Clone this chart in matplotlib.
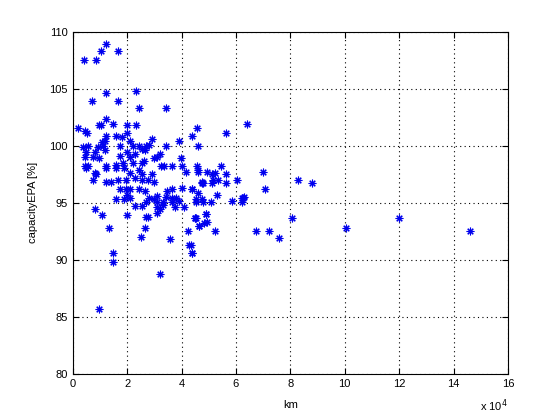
"""Scatter of capacityEPA [%] against km, MATLAB-style."""

import matplotlib
matplotlib.use("Agg")
import matplotlib.pyplot as plt

# km in units of 1e4 (axis shows "x 10^4")
km = [
    1.21, 1.03, 1.65, 0.40, 0.84, 2.31, 1.21, 0.70, 1.65, 2.45, 3.44,
    6.41, 4.58, 4.40, 5.64, 4.62, 4.58, 4.62, 4.95, 5.13, 5.24, 5.46,
    5.64, 7.00, 6.04, 5.35, 5.16, 4.80, 4.76, 5.13, 5.64, 4.40, 7.07,
    8.28, 8.79, 5.31, 6.30, 4.62, 5.86, 6.23, 4.54, 4.80, 5.09, 4.51,
    4.91, 4.95, 4.84, 4.65, 5.24, 6.74, 7.22, 7.58, 8.06, 4.36, 4.40,
    12.01, 10.04, 14.62,
    1.21, 1.03, 0.95, 1.47, 2.01, 2.34, 0.18, 0.44, 0.51, 1.21, 1.58,
    1.98, 1.17, 1.06, 0.37, 0.55, 0.92, 1.10, 1.72, 2.09, 2.20, 2.45,
    0.48, 0.81, 1.17, 1.98, 0.44, 0.73, 0.95, 1.72, 2.09, 0.44, 0.55,
    1.21, 1.58, 1.83, 2.20, 2.56,
    0.48, 0.81, 0.84, 0.73, 1.21, 1.58, 1.90, 2.12, 2.27, 1.21, 1.39,
    1.65, 1.94, 1.72, 1.94, 2.12, 2.45, 2.01, 2.09, 1.58, 1.90, 2.27,
    2.56, 0.81, 1.06, 1.98,
    1.32, 2.67, 2.49, 2.75, 1.47, 1.47, 3.19, 0.95, 3.59, 4.25, 4.29,
    4.40, 4.51, 4.65,
    3.92, 2.82, 2.71, 2.56, 2.64, 3.44, 3.19, 3.08, 3.00, 3.99, 3.26,
    3.37, 3.63, 4.03,
    4.18, 4.62, 2.45, 2.56, 2.93, 2.53, 2.75, 3.00, 3.66, 4.03, 4.40,
    4.76, 3.48, 2.64, 3.11, 2.82, 3.00, 3.41, 3.63, 3.81, 3.92, 2.71,
    3.08, 3.30, 3.66, 4.54, 4.76, 3.08, 3.19, 3.74, 4.10, 3.11, 2.71,
    4.54, 4.91, 6.26, 6.23, 3.30, 2.60, 2.30, 2.90, 1.80,
]
capacity = [
    108.9, 108.3, 108.3, 107.5, 107.5, 104.8, 104.6, 103.9, 103.9, 103.3, 103.3,
    101.9, 101.6, 100.9, 101.1, 100.0, 98.2, 97.7, 97.7, 97.5, 97.6, 98.2,
    97.5, 97.7, 97.0, 97.0, 97.0, 96.7, 96.7, 96.7, 96.7, 96.2, 96.2,
    97.0, 96.7, 95.7, 95.5, 95.9, 95.2, 95.4, 95.1, 95.1, 95.1, 93.7,
    94.0, 93.3, 93.2, 93.0, 92.5, 92.5, 92.5, 91.9, 93.7, 91.3, 90.6,
    93.7, 92.8, 92.5,
    102.4, 101.8, 101.8, 101.9, 101.8, 101.8, 101.6, 101.3, 101.1, 100.9, 100.9,
    101.1, 100.4, 100.3, 99.9, 100.0, 99.9, 100.0, 100.0, 100.4, 100.0, 100.0,
    99.5, 99.5, 99.6, 99.5, 99.0, 99.0, 98.9, 99.1, 99.0, 98.2, 98.2,
    98.2, 98.3, 98.5, 98.5, 98.5,
    98.1, 97.6, 97.5, 97.0, 98.1, 98.1, 98.1, 97.6, 97.2, 96.8, 96.8,
    97.0, 97.0, 96.2, 96.2, 96.2, 96.2, 95.7, 95.4, 95.3, 95.3, 94.7,
    94.7, 94.5, 93.9, 93.9,
    92.8, 92.8, 92.0, 93.8, 90.6, 89.8, 88.8, 85.7, 91.8, 92.5, 91.3,
    90.6, 93.7, 93.0,
    100.4, 100.1, 100.0, 99.7, 99.6, 100.0, 99.3, 99.0, 98.9, 98.9, 98.2,
    98.2, 98.2, 98.2,
    97.7, 97.9, 97.9, 97.5, 97.5, 97.0, 97.0, 96.8, 96.2, 96.3, 96.2,
    96.8, 96.0, 96.0, 95.6, 95.4, 95.3, 95.5, 95.4, 95.4, 95.2, 95.1,
    95.1, 95.1, 95.1, 95.3, 95.3, 94.6, 94.5, 94.6, 94.6, 94.1, 93.8,
    93.7, 94.0, 95.4, 95.1, 94.8, 98.7, 99.3, 100.6, 100.8,
]


def main() -> None:
    plt.rcParams["font.family"] = ["Liberation Sans", "DejaVu Sans"]
    fig = plt.figure(figsize=(5.6, 4.2), dpi=100)
    ax = fig.add_axes([0.13, 0.11, 0.777, 0.814])

    ax.plot(km, capacity, linestyle="none", marker=(8, 2, 0), markersize=5.5,
            markeredgewidth=0.8, color="#0000ee")

    ax.set_xlim(0, 16)
    ax.set_ylim(80, 110)
    ax.set_xticks(range(0, 17, 2))
    ax.set_yticks(range(80, 111, 5))
    ax.grid(True, color="black", linestyle=(0, (1, 3)), linewidth=0.8)
    ax.tick_params(direction="in", top=True, right=True, labelsize=8, length=4)
    for s in ax.spines.values():
        s.set_linewidth(0.8)

    ax.set_xlabel("km", fontsize=8, labelpad=8)
    ax.set_ylabel("capacityEPA [%]", fontsize=8, labelpad=8)
    ax.text(1.0, -0.07, r"x 10$^4$", transform=ax.transAxes, fontsize=8,
            ha="right", va="top")

    fig.savefig("out.png", dpi=100)


if __name__ == "__main__":
    main()
